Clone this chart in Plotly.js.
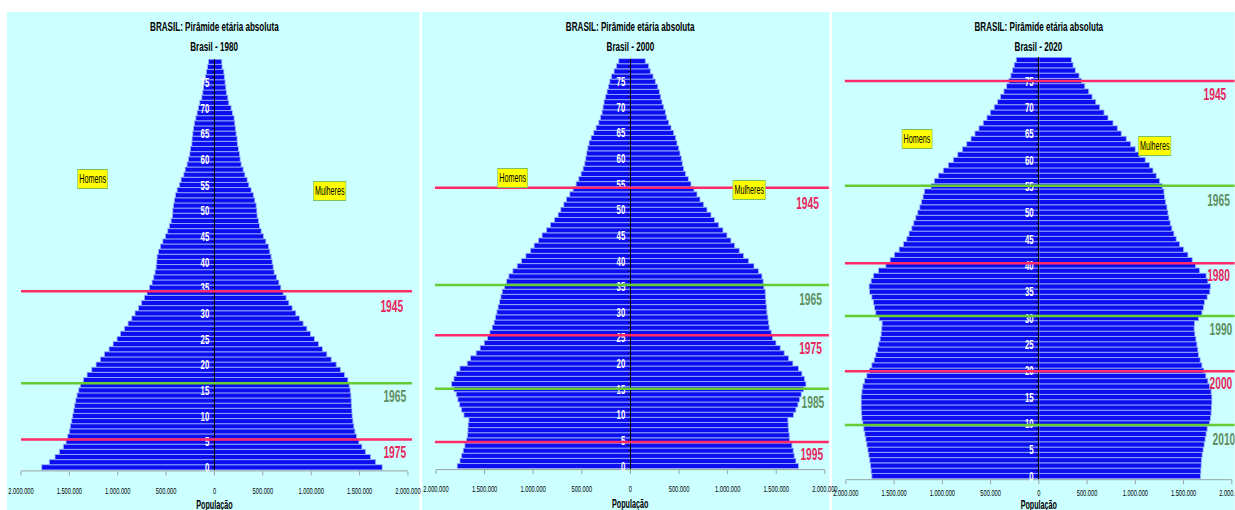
<!DOCTYPE html>
<html><head><meta charset="utf-8">
<script src="https://cdn.plot.ly/plotly-3.0.1.min.js"></script>
<style>
html,body{margin:0;padding:0;overflow:hidden;background:#fff;width:1235px;height:510px;}
#chart{width:2058px;height:510px;transform:scaleX(0.6);transform-origin:0 0;}
</style></head><body><div id="chart"></div>
<script>
// ---------------- DATA ----------------
const ages = [0,1,2,3,4,5,6,7,8,9,10,11,12,13,14,15,16,17,18,19,20,21,22,23,24,25,26,27,28,29,30,31,32,33,34,35,36,37,38,39,
  40,41,42,43,44,45,46,47,48,49,50,51,52,53,54,55,56,57,58,59,60,61,62,63,64,65,66,67,68,69,70,71,72,73,74,75,76,77,78,79];
const ageTickLabels = ['0','5','10','15','20','25','30','35','40','45','50','55','60','65','70','75'];

// population, thousands
const homens1980 = [1786,1707,1648,1603,1562,1534,1517,1500,1490,1476,1466,1455,1445,1434,1421,1403,1386,1355,1317,1269,
  1224,1179,1138,1090,1048,1007,972,931,893,855,821,786,755,724,697,672,645,628,614,603,
  597,593,579,559,534,507,483,466,448,434,431,424,414,403,386,362,345,317,303,283,
  269,255,248,234,231,224,217,207,193,179,166,152,131,121,114,107,93,83,72,62];
const mulheres1980 = [1734,1666,1614,1562,1524,1493,1469,1452,1441,1431,1424,1421,1417,1414,1410,1403,1393,1379,1345,1303,
  1259,1207,1162,1117,1076,1034,993,955,917,879,841,803,769,741,710,686,666,641,617,607,
  597,586,572,559,531,507,483,466,455,441,438,431,417,403,379,355,338,314,297,276,
  266,259,248,238,234,224,217,210,203,186,172,148,138,124,117,110,103,97,79,76];
const homens2000 = [1781,1753,1736,1719,1702,1685,1675,1671,1668,1661,1712,1736,1757,1774,1791,1815,1839,1815,1791,1753,
  1678,1644,1586,1545,1503,1469,1445,1421,1401,1387,1373,1360,1346,1332,1318,1295,1274,1250,1209,1164,
  1120,1075,1027,990,945,908,863,822,781,743,716,685,658,623,589,558,531,507,486,469,
  459,449,438,425,404,377,353,325,308,291,281,271,257,240,226,212,195,168,144,120];
const mulheres2000 = [1729,1702,1685,1675,1661,1637,1634,1627,1623,1620,1678,1702,1723,1740,1757,1781,1805,1791,1764,1729,
  1671,1627,1582,1541,1497,1462,1449,1428,1421,1414,1404,1401,1394,1390,1387,1373,1366,1353,1318,1271,
  1216,1164,1120,1072,1034,993,952,908,866,829,788,753,716,685,654,623,596,568,548,534,
  524,510,497,479,466,445,418,394,373,360,342,325,312,298,281,257,233,205,188,154];
const homens2020 = [1731,1738,1745,1752,1762,1772,1783,1793,1803,1814,1824,1834,1838,1841,1841,1841,1834,1824,1807,1783,
  1755,1731,1707,1690,1672,1659,1645,1634,1628,1624,1655,1690,1703,1714,1731,1755,1759,1738,1714,1662,
  1586,1541,1497,1448,1403,1369,1345,1317,1297,1276,1255,1234,1217,1200,1186,1117,1083,1041,990,938,
  886,841,793,748,703,662,621,576,538,503,462,428,397,362,334,310,290,272,255,234];
const mulheres2020 = [1676,1679,1683,1686,1693,1703,1714,1724,1734,1745,1769,1779,1786,1790,1793,1793,1786,1769,1752,1731,
  1710,1690,1672,1655,1648,1638,1628,1617,1610,1614,1655,1690,1707,1717,1745,1772,1779,1752,1734,1666,
  1624,1590,1545,1500,1459,1424,1400,1379,1362,1348,1338,1328,1314,1303,1297,1279,1252,1217,1183,1148,
  1103,1045,1000,952,907,855,814,769,717,676,631,590,552,517,476,441,417,379,355,338];

// birth-cohort reference lines (year of birth, age at census)
const coortes1980 = [1945,1965,1975];
const idades1980  = [34.3,16.4,5.4];
const coortes2000 = [1945,1965,1975,1985,1995];
const idades2000  = [54.3,35.3,25.5,15.1,4.7];
const coortes2020 = [1945,1965,1980,1990,2000,2010];
const idades2020  = [75.0,55.1,40.4,30.4,19.9,9.7];

const xTickVals = [-2000000,-1500000,-1000000,-500000,0,500000,1000000,1500000,2000000];
const xTickText = ['2.000.000','1.500.000','1.000.000','500.000','0','500.000','1.000.000','1.500.000','2.000.000'];

// ---------------- LAYOUT GEOMETRY (pixel-based, 1235x510 image) ----------------
const W0 = 1235, H0 = 510, SX = 0.6;
const px = x => x / W0, py = y => (H0 - y) / H0;

const panels = [
  {ano:'1980', h:homens1980, m:mulheres1980, coortes:coortes1980, idades:idades1980,
   xd:[21,408], yd:[470.4,59.2], bg:[7,419.5], lineX:[21,412], tituloY:505, standoff:7, shift:0,
   homens:[93,179], mulheres:[330,191],
   rotulos:[[392,31.4],[395,13.7],[395,2.8]]},
  {ano:'2000', h:homens2000, m:mulheres2000, coortes:coortes2000, idades:idades2000,
   xd:[436,825], yd:[469.1,58.6], bg:[422,829.5], lineX:[435,829], tituloY:504, standoff:7, shift:-4,
   homens:[513,178], mulheres:[749,190],
   rotulos:[[808,51.3],[811,32.5],[811,23.0],[813,12.4],[812,2.3]]},
  {ano:'2020', h:homens2020, m:mulheres2020, coortes:coortes2020, idades:idades2020,
   xd:[846,1232], yd:[479.2,57.3], bg:[832,1235], lineX:[845,1235], tituloY:505, standoff:0, shift:4,
   homens:[917,139], mulheres:[1155,146],
   rotulos:[[1215,72.4],[1219,52.4],[1219,38.0],[1221,27.9],[1221,17.5],[1224,7.0]]}
];

const RED_LINE = '#ff2a68', GREEN_LINE = '#66cc33';
const RED_TXT = '#e8245c', GREEN_TXT = '#5e8e5e';
const BAR = '#0d0df0', BAR_EDGE = '#9ab8ff';
const FONT = 'Liberation Sans, Arial, sans-serif';

const data = [], shapes = [], annotations = [];
const layout = {
  width: Math.round(W0 / SX), height: H0, autosize: false,
  margin: {l:0, r:0, t:0, b:0, pad:0},
  paper_bgcolor: '#ffffff', plot_bgcolor: 'rgba(0,0,0,0)',
  showlegend: false, barmode: 'overlay', bargap: 0,
  font: {family: FONT, color: '#000'},
  shapes: shapes, annotations: annotations
};

panels.forEach((p, i) => {
  const n = i === 0 ? '' : String(i + 1);
  const xa = 'x' + n, ya = 'y' + n;
  const cx = px((p.xd[0] + p.xd[1]) / 2);

  // background panel
  shapes.push({type:'rect', xref:'paper', yref:'paper', layer:'below',
    x0:px(p.bg[0]), x1:px(p.bg[1]), y0:0, y1:py(12),
    fillcolor:'#ccffff', line:{width:0}});

  const mk = {color: BAR, line: {color: BAR_EDGE, width: 1}};
  data.push({type:'bar', orientation:'h', name:'Homens', xaxis:xa, yaxis:ya,
    y: ages, x: p.h.map(v => -v * 1000), marker: mk, hoverinfo:'skip'});
  data.push({type:'bar', orientation:'h', name:'Mulheres', xaxis:xa, yaxis:ya,
    y: ages, x: p.m.map(v => v * 1000), marker: mk, hoverinfo:'skip'});

  layout['xaxis' + n] = {
    domain: [px(p.xd[0]), px(p.xd[1])], anchor: ya, range: [-2000000, 2000000],
    tickvals: xTickVals, ticktext: xTickText, ticks: 'outside', ticklen: 4,
    tickcolor: '#8a8a8a', showline: true, linecolor: '#8a8a8a', linewidth: 1,
    showgrid: false, zeroline: false, tickfont: {size: 9.5, color: '#000'},
    ticklabelstandoff: p.standoff, ticklabelshift: p.shift / SX,
    ticklabeloverflow: 'allow', fixedrange: true
  };
  layout['yaxis' + n] = {
    domain: [py(p.yd[0]), py(p.yd[1])], anchor: 'free', position: cx,
    range: [-0.6, 79.5], tickvals: ages,
    ticktext: ages.map(a => (a % 5 === 0 ? ageTickLabels[a / 5] : '')),
    ticks: 'outside', ticklen: 3, tickwidth: 1, tickcolor: '#000',
    showline: true, linecolor: '#000', linewidth: 2,
    showgrid: false, zeroline: false,
    tickfont: {size: 13, color: '#ffffff', family: FONT, weight: 'bold'},
    ticklabelstandoff: 2, fixedrange: true
  };

  // cohort lines and labels
  p.coortes.forEach((c, k) => {
    const red = k % 2 === 0;
    shapes.push({type:'line', xref:'paper', yref:ya, layer:'above',
      x0:px(p.lineX[0]), x1:px(p.lineX[1]), y0:p.idades[k], y1:p.idades[k],
      line:{color: red ? RED_LINE : GREEN_LINE, width: 2.5}});
    annotations.push({xref:'paper', yref:ya, x:px(p.rotulos[k][0]), y:p.rotulos[k][1],
      text: String(c), showarrow:false, xanchor:'center', yanchor:'middle',
      font:{size:17, weight:'bold', color: red ? RED_TXT : GREEN_TXT, family: FONT}});
  });

  // titles
  annotations.push({xref:'paper', yref:'paper', x:cx, y:py(26), text:'BRASIL: Pirâmide etária absoluta',
    showarrow:false, xanchor:'center', yanchor:'middle', font:{size:13.5, weight:'bold', color:'#000'}});
  annotations.push({xref:'paper', yref:'paper', x:cx, y:py(46.5), text:'Brasil - ' + p.ano,
    showarrow:false, xanchor:'center', yanchor:'middle', font:{size:13.5, weight:'bold', color:'#000'}});
  annotations.push({xref:'paper', yref:'paper', x:cx, y:py(p.tituloY), text:'População',
    showarrow:false, xanchor:'center', yanchor:'middle', font:{size:12, weight:'bold', color:'#000'}});

  // sex labels
  [['Homens', p.homens], ['Mulheres', p.mulheres]].forEach(([t, pos]) => {
    annotations.push({xref:'paper', yref:'paper', x:px(pos[0]), y:py(pos[1]), text:t,
      showarrow:false, xanchor:'center', yanchor:'middle', bgcolor:'#ffff00',
      bordercolor:'#7cc060', borderwidth:1, borderpad:2,
      font:{size:12, color:'#000'}});
  });
});

Plotly.newPlot('chart', data, layout, {staticPlot:true, displayModeBar:false});
</script></body></html>
